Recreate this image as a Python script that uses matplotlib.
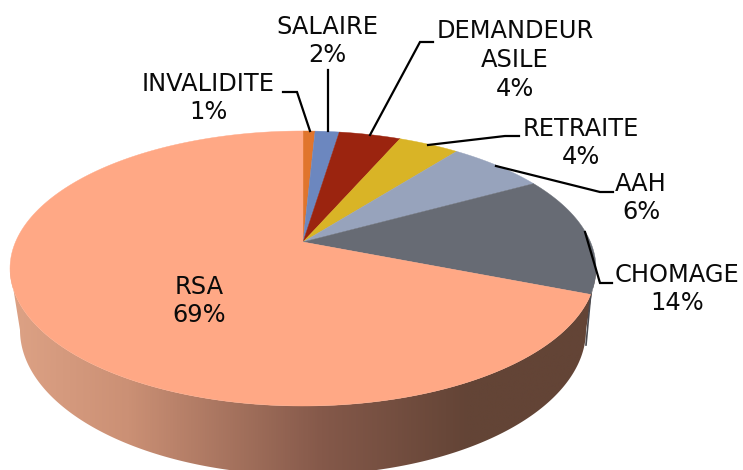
import numpy as np
import matplotlib
matplotlib.use("Agg")
import matplotlib.pyplot as plt
from matplotlib.patches import Polygon
from matplotlib.colors import LinearSegmentedColormap

categories = ["INVALIDITE", "SALAIRE", "DEMANDEUR\nASILE", "RETRAITE", "AAH", "CHOMAGE", "RSA"]
values = [0.8, 1.6, 4.1, 4.05, 6.45, 14.0, 69.0]
pct_labels = ["1%", "2%", "4%", "4%", "6%", "14%", "69%"]
colors = ["#E0752D", "#6C87BF", "#9B240F", "#D9B426", "#97A3BC", "#676B74", "#FFA885"]
label_pos = [(208, 98), (327, 41), (515, 60), (581, 143), (641, 198), (677, 289), (199, 301)]
leaders = [
    [(283, 92), (297, 92), (310, 131)],
    [(328, 70), (328, 131)],
    [(433, 42), (420, 42), (370, 135)],
    [(519, 136), (505, 136), (428, 145)],
    [(613, 192), (600, 192), (496, 166)],
    [(585, 232), (600, 283), (612, 283)],
]

# perspective disc geometry in pixels
CX, CY, A, B, P = 303.0, 242.0, 287.5, 132.4, 0.1927
BASE_CY, BASE_A, BASE_B = 330.0, 283.0, 145.0


def project(theta):
    u, v = np.sin(theta), np.cos(theta)
    w = 1 + P * v
    return CX + A * u / w, CY - B * v / w


fig = plt.figure(figsize=(7.43, 4.70), dpi=100)
ax = fig.add_axes([0, 0, 1, 1])

# side wall with horizontal gradient
t = np.radians(np.linspace(101, 259, 300))
tx, ty = project(t)
# lower arc of top face (right to left), then base arc (left to right)
s = np.linspace(0, np.pi, 300)
bx = CX - BASE_A * np.cos(s)
by = BASE_CY + BASE_B * np.sin(s)
side_xy = np.column_stack([np.r_[tx, bx], np.r_[ty, by]])
cmap = LinearSegmentedColormap.from_list(
    "side",
    [(0.0, "#DDA285"), (0.2, "#CB9075"), (0.53, "#85594A"), (0.78, "#634436"), (1.0, "#634436")],
)
grad = np.linspace(0, 1, 512)[None, :]
im = ax.imshow(grad, extent=(10, 597, 480, 230), cmap=cmap, aspect="auto", zorder=1)
side_patch = Polygon(side_xy, closed=True, transform=ax.transData, fc="none", ec="none")
ax.add_patch(side_patch)
im.set_clip_path(side_patch)

# dark sliver on the right wall
rx0, ry0 = project(np.radians(111.6))
ax.plot([rx0, CX + BASE_A], [ry0, BASE_CY + 15], color="#4A4A50", lw=1.2, zorder=1.5)

# top face wedges
cum = np.r_[0, np.cumsum(values)]
total = cum[-1]
for i, col in enumerate(colors):
    th = np.linspace(cum[i] / total, cum[i + 1] / total, 200) * 2 * np.pi
    x, y = project(th)
    ax.add_patch(Polygon(np.column_stack([np.r_[CX, x], np.r_[CY, y]]), closed=True,
                         fc=col, ec=col, lw=0.3, zorder=2))

for pts in leaders:
    xs, ys = zip(*pts)
    ax.plot(xs, ys, color="black", lw=1.6, zorder=3, solid_joinstyle="miter")

for name, pct, (lx, ly) in zip(categories, pct_labels, label_pos):
    ax.text(lx, ly, f"{name}\n{pct}", ha="center", va="center", fontsize=17.4,
            family="DejaVu Sans", color="#0A0A0A", linespacing=1.26, zorder=4)

ax.set_xlim(0, 743)
ax.set_ylim(470, 0)
ax.axis("off")
fig.savefig("out.png", dpi=100)
